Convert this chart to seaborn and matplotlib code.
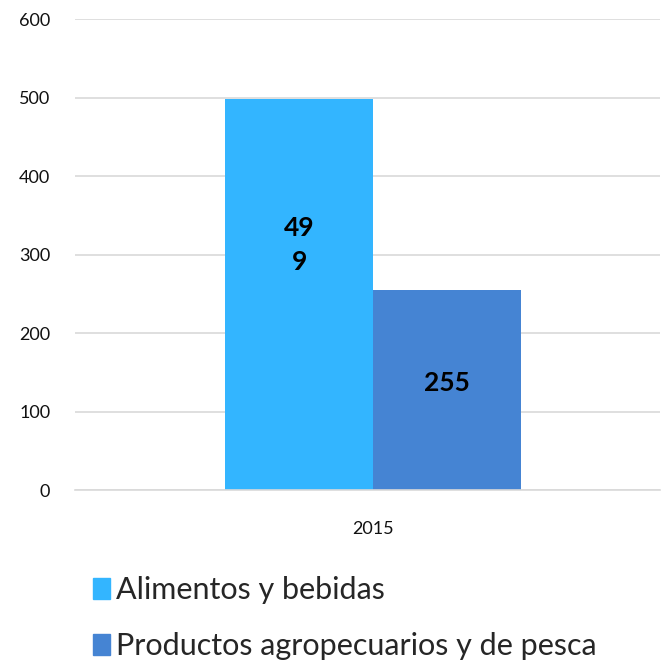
import seaborn as sns
import matplotlib.pyplot as plt
import pandas as pd

# datos
anios = ["2015", "2015"]
categorias = ["Alimentos y bebidas", "Productos agropecuarios y de pesca"]
valores = [499, 255]
etiquetas = ["49\n9", "255"]
colores = ["#33B5FF", "#4584D3"]

df = pd.DataFrame({"anio": anios, "categoria": categorias, "valor": valores})

sns.set_style("white")
plt.rcParams["font.family"] = ["Lato", "DejaVu Sans"]

fig = plt.figure(figsize=(6.66, 6.65), dpi=100)
ax = fig.add_axes([0.113, 0.263, 0.878, 0.708])

sns.barplot(data=df, x="anio", y="valor", hue="categoria", palette=colores,
            width=0.497, saturation=1, linewidth=0, ax=ax, legend=False, zorder=2)

ax.set_xlim(-0.5, 0.4816)
ax.set_ylim(0, 600)
ax.set_yticks(range(0, 601, 100))
ax.yaxis.grid(True, color="#d9d9d9", linewidth=1.2, zorder=0)
ax.set_axisbelow(True)
for s in ["top", "right", "left"]:
    ax.spines[s].set_visible(False)
ax.spines["bottom"].set_color("#d9d9d9")
ax.spines["bottom"].set_linewidth(1.2)
ax.tick_params(axis="both", length=0, labelsize=13, colors="#111111")
ax.tick_params(axis="y", pad=18)
ax.tick_params(axis="x", pad=22)
ax.set_xlabel("")
ax.set_ylabel("")

# etiquetas de datos
posiciones = [0.625, 0.535]
for p, et, v, f in zip(ax.patches, etiquetas, valores, posiciones):
    x = p.get_x() + p.get_width() / 2
    ax.text(x, v * f, et, ha="center", va="center", fontsize=19,
            fontweight="bold", color="black", linespacing=1.5)

# leyenda
handles = [plt.Rectangle((0, 0), 1, 1, color=c) for c in colores]
fig.legend(handles, categorias, loc="lower left", bbox_to_anchor=(0.115, -0.018),
           frameon=False, fontsize=22, handlelength=0.55, handleheight=0.65,
           handletextpad=0.2, labelspacing=0.92, borderaxespad=0.15)

fig.savefig("out.png", dpi=100)
